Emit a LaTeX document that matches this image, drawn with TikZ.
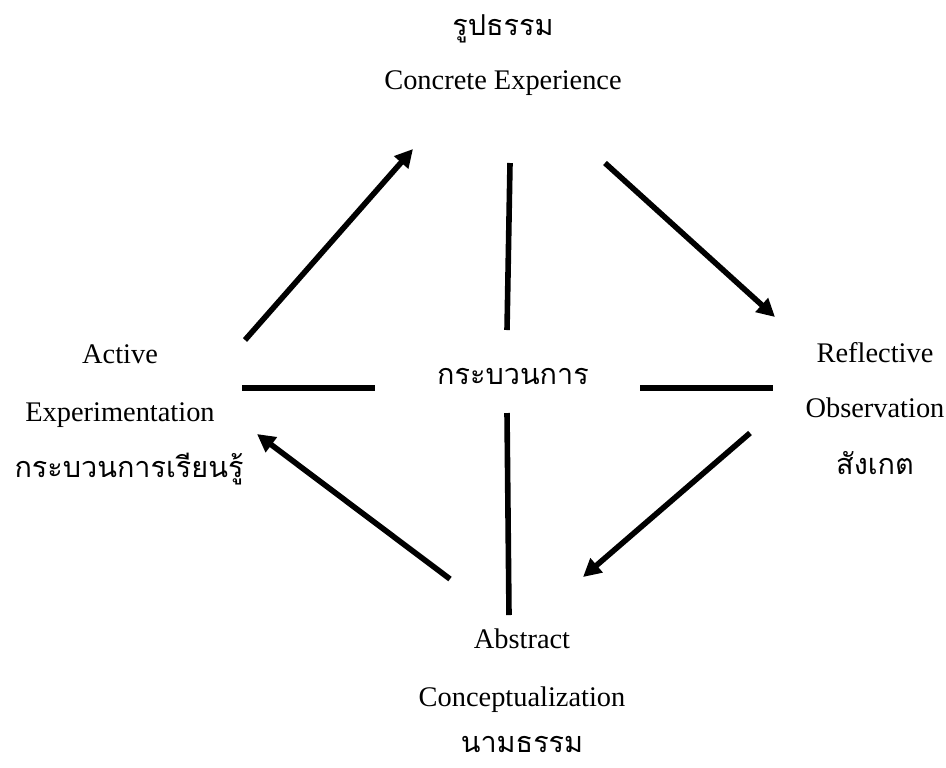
\documentclass[tikz,border=0pt]{standalone}
\usepackage{fontspec}
\setmainfont{Liberation Serif}
\newfontfamily\thaifont[Script=Thai]{Loma}
\usetikzlibrary{arrows.meta}

\tikzset{
  line/.style={line width=2.8pt},
  arr/.style={line,-{Triangle[length=9pt,width=9pt]}},
  txt/.style={anchor=base,inner sep=0pt,font=\fontsize{14.2}{16}\selectfont},
  thai/.style={anchor=base,inner sep=0pt,font=\thaifont\fontsize{14.4}{16}\selectfont},
}

\begin{document}
\begin{tikzpicture}[x=0.5pt,y=-0.5pt]
        \useasboundingbox (0,0) rectangle (946,767);
        % labels
        \node[thai] (ceth) at (503,35) {รูปธรรม};
        \node[txt] (ce) at (503,89) {Concrete Experience};
        \node[txt] (ae1) at (120,363) {Active};
        \node[txt] (ae2) at (120,421) {Experimentation};
        \node[thai] (aeth) at (129,477) {กระบวนการเรียนรู้};
        \node[txt] (ro1) at (875,362) {Reflective};
        \node[txt] (ro2) at (875,417) {Observation};
        \node[thai] (roth) at (875,474) {สังเกต};
        \node[txt] (ac1) at (522,648) {Abstract};
        \node[txt] (ac2) at (522,706) {Conceptualization};
        \node[thai] (acth) at (522,752) {นามธรรม};
        \node[thai] (mid) at (513,384) {กระบวนการ};
        % end points
        \coordinate (a1s) at (245,340);
        \coordinate (a1e) at (413,149);
        \coordinate (a2s) at (605,163);
        \coordinate (a2e) at (775,317);
        \coordinate (a3s) at (750,433);
        \coordinate (a3e) at (583,577);
        \coordinate (a4s) at (450,579);
        \coordinate (a4e) at (257,434);
        \coordinate (vt1) at (510,163);
        \coordinate (vt2) at (507,330);
        \coordinate (vb1) at (507,413);
        \coordinate (vb2) at (509,615);
        \coordinate (hl1) at (242,388);
        \coordinate (hl2) at (375,388);
        \coordinate (hr1) at (640,388);
        \coordinate (hr2) at (773,388);
        % cycle
        \draw[arr] (a1s) -- (a1e);
        \draw[arr] (a2s) -- (a2e);
        \draw[arr] (a3s) -- (a3e);
        \draw[arr] (a4s) -- (a4e);
        % cross
        \draw[line] (vt1) -- (vt2);
        \draw[line] (vb1) -- (vb2);
        \draw[line] (hl1) -- (hl2);
        \draw[line] (hr1) -- (hr2);
\end{tikzpicture}
\end{document}
